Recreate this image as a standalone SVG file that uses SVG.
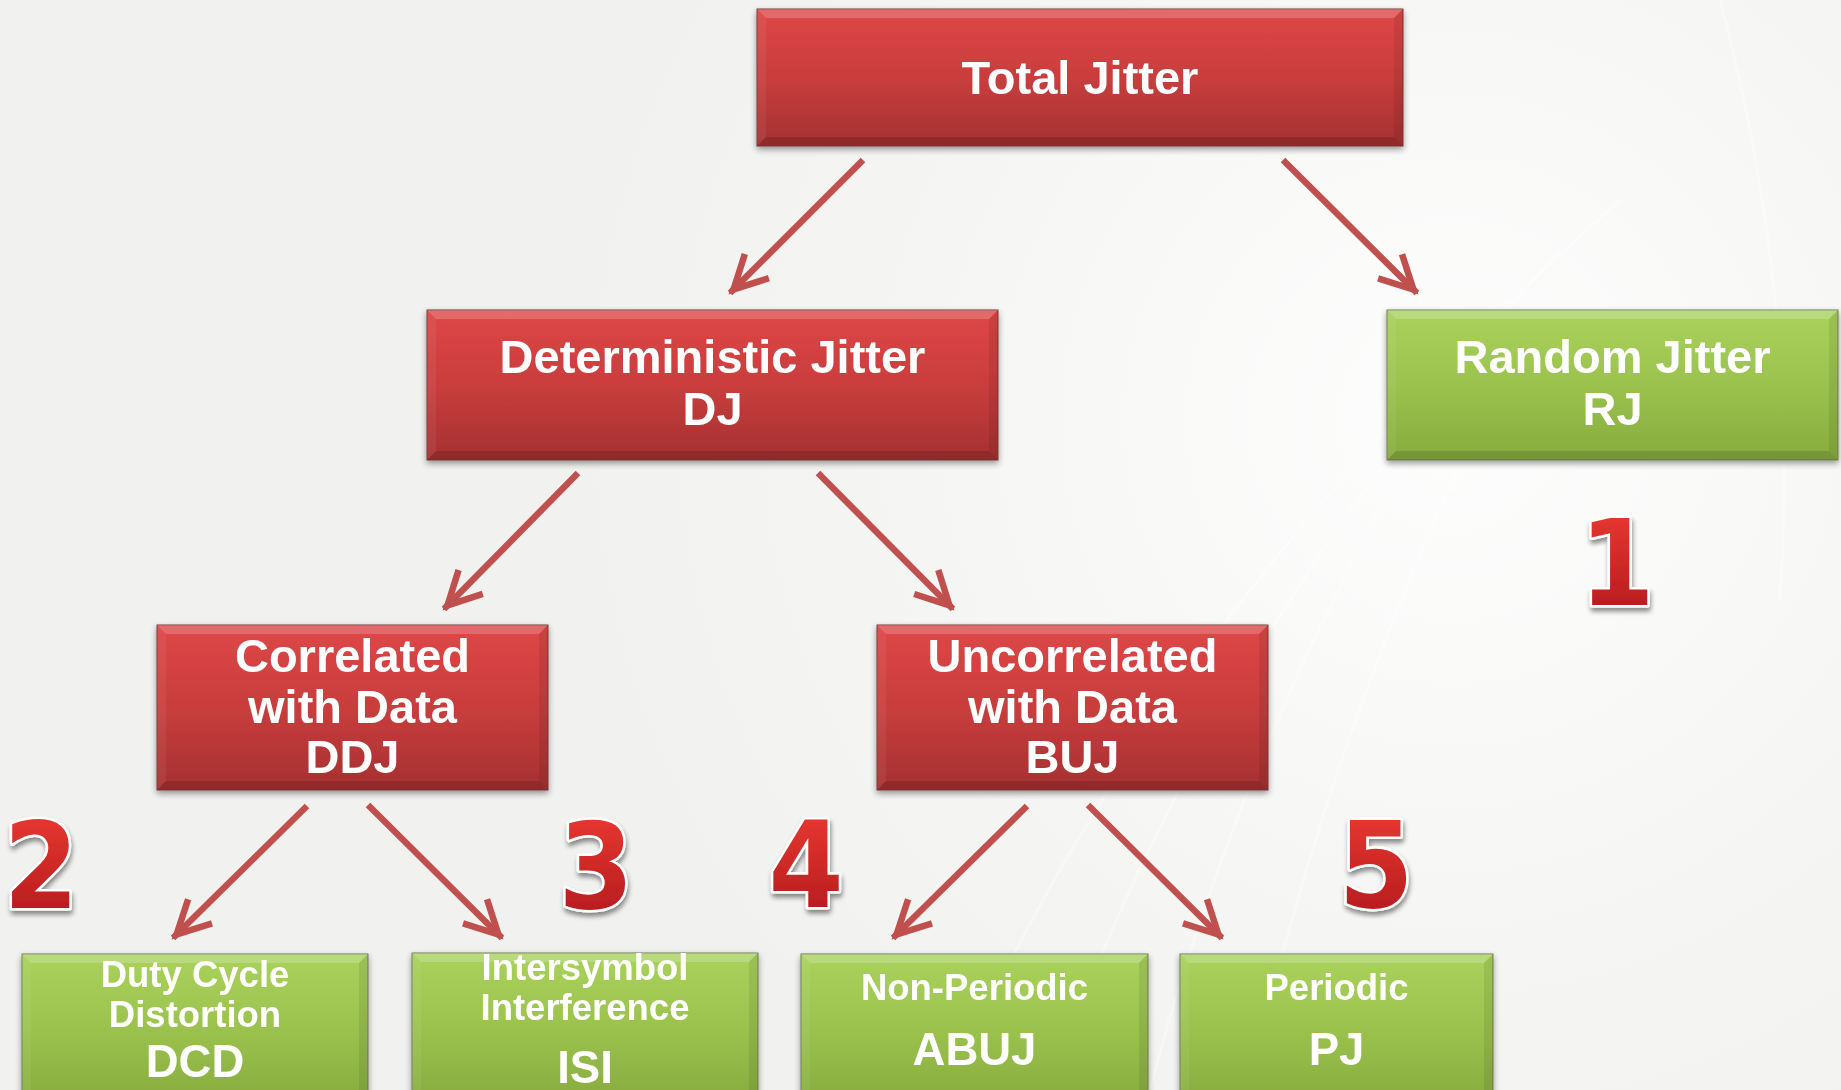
<svg xmlns="http://www.w3.org/2000/svg" width="1841" height="1090" viewBox="0 0 1841 1090">
<defs>
<style>
.t{font-family:"Liberation Sans",Arial,sans-serif;font-weight:bold;fill:#fff;text-anchor:middle}
.big{font-size:47px}
.mid{font-size:36.5px}
.lg{font-size:45.5px}
.num{font-family:"DejaVu Sans Condensed","DejaVu Sans",sans-serif;font-stretch:condensed;font-weight:bold;font-size:120px;text-anchor:middle;fill:url(#dg);stroke:#fff;stroke-width:5;paint-order:stroke;stroke-linejoin:round;filter:url(#nsh)}
.red{fill:url(#rg);stroke:#7a3a3a;stroke-width:1}
.grn{fill:url(#gg);stroke:#6f7f55;stroke-width:1}
.hl{fill:#fff;opacity:.2}
.dk{fill:#000;opacity:.13}
.sl{fill:#fff;opacity:.06}
.sr{fill:#000;opacity:.08}
.arr{stroke:#C0504D;stroke-width:6.5;fill:none;marker-end:url(#ah)}
</style>
<linearGradient id="rg" x1="0" y1="0" x2="0" y2="1">
<stop offset="0" stop-color="#DE4747"/>
<stop offset="0.5" stop-color="#C93D3D"/>
<stop offset="1" stop-color="#A53131"/>
</linearGradient>
<linearGradient id="gg" x1="0" y1="0" x2="0" y2="1">
<stop offset="0" stop-color="#A9D25C"/>
<stop offset="0.5" stop-color="#9BC24E"/>
<stop offset="1" stop-color="#87AB3E"/>
</linearGradient>
<linearGradient id="dg" x1="0" y1="0" x2="0" y2="1">
<stop offset="0" stop-color="#EE3C34"/>
<stop offset="1" stop-color="#AE161A"/>
</linearGradient>
<radialGradient id="bgr" cx="1450" cy="420" r="900" gradientUnits="userSpaceOnUse">
<stop offset="0" stop-color="#FFFFFF" stop-opacity="0.9"/>
<stop offset="0.6" stop-color="#FFFFFF" stop-opacity="0.3"/>
<stop offset="1" stop-color="#FFFFFF" stop-opacity="0"/>
</radialGradient>
<filter id="sh" x="-5%" y="-10%" width="110%" height="130%">
<feGaussianBlur in="SourceAlpha" stdDeviation="3"/>
<feOffset dx="0" dy="3" result="b"/>
<feComponentTransfer><feFuncA type="linear" slope="0.4"/></feComponentTransfer>
<feMerge><feMergeNode/><feMergeNode in="SourceGraphic"/></feMerge>
</filter>
<filter id="nsh" x="-20%" y="-20%" width="140%" height="140%">
<feGaussianBlur in="SourceAlpha" stdDeviation="2.5"/>
<feOffset dx="1" dy="4"/>
<feComponentTransfer><feFuncA type="linear" slope="0.45"/></feComponentTransfer>
<feMerge><feMergeNode/><feMergeNode in="SourceGraphic"/></feMerge>
</filter>
<marker id="ah" markerUnits="userSpaceOnUse" markerWidth="60" markerHeight="60" refX="5" refY="0" orient="auto" overflow="visible">
<path d="M-33,-17 L0,0 L-33,17" fill="none" stroke="#C0504D" stroke-width="6.5" stroke-linejoin="miter" stroke-miterlimit="10"/>
</marker>
</defs>

<rect x="0" y="0" width="1841" height="1090" fill="#F1F1EF"/>
<rect x="0" y="0" width="1841" height="1090" fill="url(#bgr)"/>
<g fill="none" stroke="#FFFFFF" stroke-opacity="0.35" stroke-width="3">
<path d="M1150,1090 Q1250,700 1500,300"/>
<path d="M1050,1090 Q1200,650 1560,250"/>
<path d="M950,1090 Q1150,620 1620,200"/>
<path d="M1250,1090 Q1320,760 1480,420"/>
<path d="M1720,0 Q1800,300 1780,600"/>
</g>

<g id="connectors">
<line class="arr" x1="863" y1="160" x2="730" y2="293"/>
<line class="arr" x1="1283" y1="160" x2="1417" y2="293"/>
<line class="arr" x1="578" y1="473" x2="444" y2="609"/>
<line class="arr" x1="818" y1="473" x2="953" y2="609"/>
<line class="arr" x1="307" y1="806" x2="173" y2="938"/>
<line class="arr" x1="368" y1="805" x2="502" y2="938"/>
<line class="arr" x1="1027" y1="806" x2="893" y2="938"/>
<line class="arr" x1="1088" y1="805" x2="1222" y2="938"/>
</g>

<g id="total-jitter" filter="url(#sh)">
<rect class="red" x="757" y="9" width="646" height="137"/>
<polygon class="hl" points="757,9 1403,9 1394,18 766,18"/>
<polygon class="dk" points="757,146 1403,146 1394,137 766,137"/>
<polygon class="sl" points="757,9 766,18 766,137 757,146"/>
<polygon class="sr" points="1403,9 1394,18 1394,137 1403,146"/>
<text class="t big" x="1080" y="94">Total Jitter</text>
</g>

<g id="deterministic-jitter" filter="url(#sh)">
<rect class="red" x="427" y="310" width="571" height="150"/>
<polygon class="hl" points="427,310 998,310 989,319 436,319"/>
<polygon class="dk" points="427,460 998,460 989,451 436,451"/>
<polygon class="sl" points="427,310 436,319 436,451 427,460"/>
<polygon class="sr" points="998,310 989,319 989,451 998,460"/>
<text class="t big" x="712.5" y="373">Deterministic Jitter</text>
<text class="t big" x="712.5" y="425">DJ</text>
</g>

<g id="random-jitter" filter="url(#sh)">
<rect class="grn" x="1387" y="310" width="451" height="150"/>
<polygon class="hl" points="1387,310 1838,310 1829,319 1396,319"/>
<polygon class="dk" points="1387,460 1838,460 1829,451 1396,451"/>
<polygon class="sl" points="1387,310 1396,319 1396,451 1387,460"/>
<polygon class="sr" points="1838,310 1829,319 1829,451 1838,460"/>
<text class="t big" x="1612.5" y="373">Random Jitter</text>
<text class="t big" x="1612.5" y="425">RJ</text>
</g>

<g id="correlated" filter="url(#sh)">
<rect class="red" x="157" y="625" width="391" height="165"/>
<polygon class="hl" points="157,625 548,625 539,634 166,634"/>
<polygon class="dk" points="157,790 548,790 539,781 166,781"/>
<polygon class="sl" points="157,625 166,634 166,781 157,790"/>
<polygon class="sr" points="548,625 539,634 539,781 548,790"/>
<text class="t big" x="352.5" y="672">Correlated</text>
<text class="t big" x="352.5" y="723">with Data</text>
<text class="t big" x="352.5" y="773">DDJ</text>
</g>

<g id="uncorrelated" filter="url(#sh)">
<rect class="red" x="877" y="625" width="391" height="165"/>
<polygon class="hl" points="877,625 1268,625 1259,634 886,634"/>
<polygon class="dk" points="877,790 1268,790 1259,781 886,781"/>
<polygon class="sl" points="877,625 886,634 886,781 877,790"/>
<polygon class="sr" points="1268,625 1259,634 1259,781 1268,790"/>
<text class="t big" x="1072.5" y="672">Uncorrelated</text>
<text class="t big" x="1072.5" y="723">with Data</text>
<text class="t big" x="1072.5" y="773">BUJ</text>
</g>

<g id="dcd" filter="url(#sh)">
<rect class="grn" x="22" y="954" width="346" height="150"/>
<polygon class="hl" points="22,954 368,954 359,963 31,963"/>
<polygon class="sl" points="22,954 31,963 31,1104 22,1104"/>
<polygon class="sr" points="368,954 359,963 359,1104 368,1104"/>
<text class="t mid" x="195" y="987">Duty Cycle</text>
<text class="t mid" x="195" y="1027">Distortion</text>
<text class="t lg" x="195" y="1077">DCD</text>
</g>

<g id="isi" filter="url(#sh)">
<rect class="grn" x="412" y="953" width="346" height="150"/>
<polygon class="hl" points="412,953 758,953 749,962 421,962"/>
<polygon class="sl" points="412,953 421,962 421,1103 412,1103"/>
<polygon class="sr" points="758,953 749,962 749,1103 758,1103"/>
<text class="t mid" x="585" y="980">Intersymbol</text>
<text class="t mid" x="585" y="1020">Interference</text>
<text class="t lg" x="585" y="1083">ISI</text>
</g>

<g id="abuj" filter="url(#sh)">
<rect class="grn" x="801" y="954" width="347" height="150"/>
<polygon class="hl" points="801,954 1148,954 1139,963 810,963"/>
<polygon class="sl" points="801,954 810,963 810,1104 801,1104"/>
<polygon class="sr" points="1148,954 1139,963 1139,1104 1148,1104"/>
<text class="t mid" x="974.5" y="1000">Non-Periodic</text>
<text class="t lg" x="974.5" y="1065">ABUJ</text>
</g>

<g id="pj" filter="url(#sh)">
<rect class="grn" x="1180" y="954" width="313" height="150"/>
<polygon class="hl" points="1180,954 1493,954 1484,963 1189,963"/>
<polygon class="sl" points="1180,954 1189,963 1189,1104 1180,1104"/>
<polygon class="sr" points="1493,954 1484,963 1484,1104 1493,1104"/>
<text class="t mid" x="1336.5" y="1000">Periodic</text>
<text class="t lg" x="1336.5" y="1065">PJ</text>
</g>

<g id="num-1"><text class="num" x="1617" y="605">1</text></g>
<g id="num-2"><text class="num" x="41" y="908">2</text></g>
<g id="num-3"><text class="num" x="596" y="908">3</text></g>
<g id="num-4"><text class="num" x="806" y="907">4</text></g>
<g id="num-5"><text class="num" x="1376" y="907">5</text></g>
</svg>
